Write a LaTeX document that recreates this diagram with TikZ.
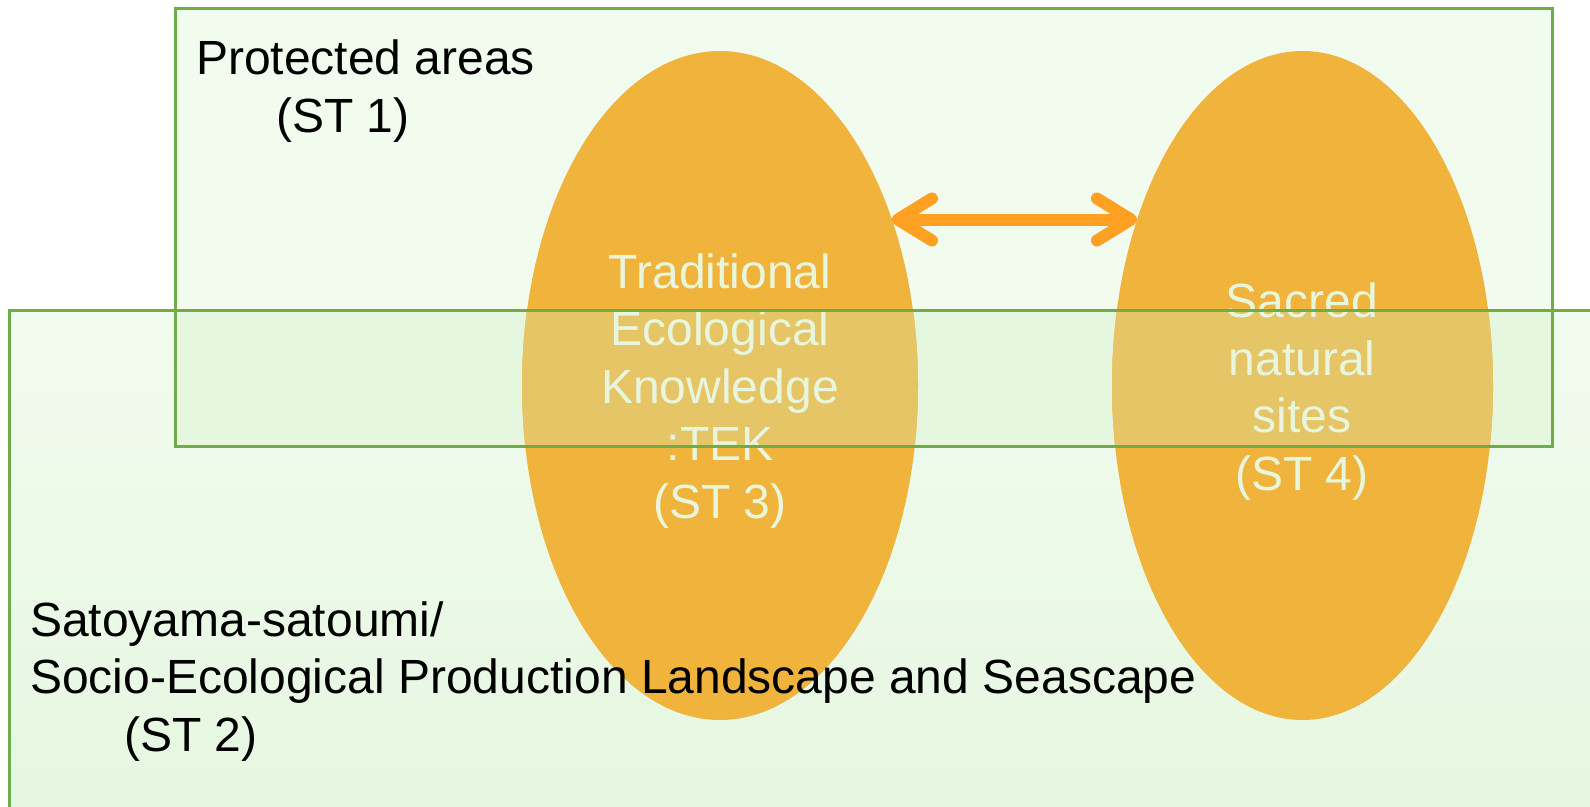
\documentclass[tikz,border=0pt]{standalone}
\usepackage{fontspec}
\setmainfont{Liberation Sans}
\usetikzlibrary{shapes.geometric,arrows.meta}

\definecolor{arealine}{RGB}{112,173,71}
\definecolor{paleone}{RGB}{241,251,238}
\definecolor{paletop}{RGB}{242,251,239}
\definecolor{palebottom}{RGB}{229,247,224}
\definecolor{palemid}{RGB}{230,247,224}
\definecolor{storange}{RGB}{240,180,60}
\definecolor{stmix}{RGB}{229,197,101}
\definecolor{sttext}{RGB}{232,246,222}
\definecolor{linkorange}{RGB}{255,160,34}

\tikzset{
	bigfont/.style={font=\fontsize{48}{57.5}\selectfont},
	stlabel/.style={bigfont,inner sep=0pt,align=center,text=sttext},
	arealabel/.style={bigfont,inner sep=0pt,align=left,text=black},
	barb/.tip={Straight Barb[length=34pt,width=42pt,round]}
}

\begin{document}
\begin{tikzpicture}[x=1pt,y=-1pt]
	\useasboundingbox (0,0) rectangle (1590,806);

	% the two areas
	\shade[top color=paletop,bottom color=palebottom] (9,310) rectangle (1600,820);
	\fill[paleone] (175,8) rectangle (1552,310);
	\fill[palemid] (175,310) rectangle (1552,446);

	\begin{scope}[every node/.style={ellipse,fill=storange,inner sep=0pt,outer sep=0pt}]
		\node[minimum width=396pt,minimum height=669pt] (tek) at (720,385.5) {};
		\node[minimum width=381pt,minimum height=669pt] (sns) at (1302.5,385.5) {};
	\end{scope}

	% where the areas overlap
	\begin{scope}
		\clip (175,310) rectangle (1552,446);
		\fill[stmix] (tek.center) ellipse [x radius=198,y radius=334.5];
		\fill[stmix] (sns.center) ellipse [x radius=190.5,y radius=334.5];
	\end{scope}

	% base is the last line
	\node[stlabel,anchor=base] (tektext) at (720,518) {Traditional\\Ecological\\Knowledge\\:TEK\\(ST 3)};
	\node[stlabel,anchor=base] (snstext) at (1302,490) {Sacred\\natural\\sites\\(ST 4)};

	\node[arealabel,anchor=base west] (pa) at (196,132) {Protected areas\\\hspace*{80pt}(ST 1)};
	\node[arealabel,anchor=base west] (sat) at (30,751) {Satoyama-satoumi/\\Socio-Ecological Production Landscape and Seascape\\\hspace*{94pt}(ST 2)};

	\begin{scope}[arealine,line width=3pt]
		\draw (175,8) rectangle (1552,446);
		\draw (9,820) |- (1600,310);
	\end{scope}

	\draw [linkorange,line width=12pt,line cap=round,barb-barb] (tek.44) -- (sns.135 |- tek.44);
\end{tikzpicture}
\end{document}
